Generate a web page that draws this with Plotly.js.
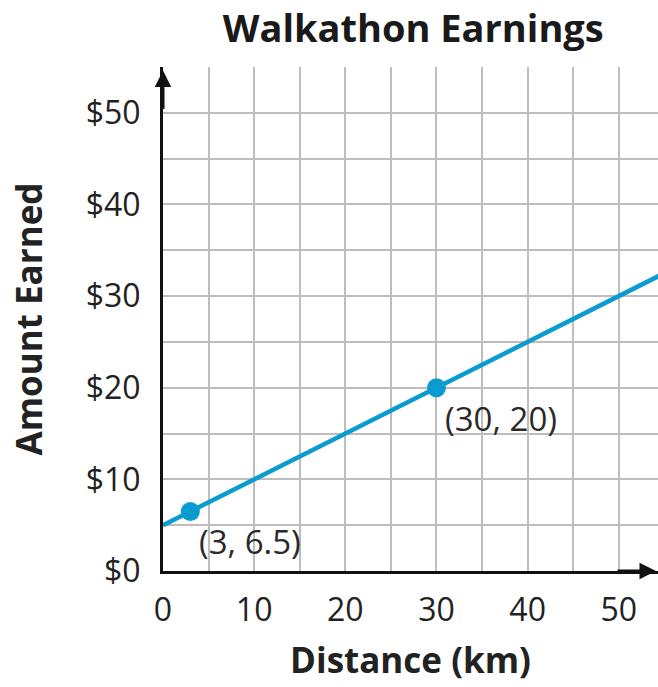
<!DOCTYPE html>
<html>
<head>
<meta charset="utf-8">
<script src="https://cdn.plot.ly/plotly-3.0.1.min.js"></script>
<style>html,body{margin:0;padding:0;background:#fff;}#chart{width:658px;height:687px;}</style>
</head>
<body>
<div id="chart"></div>
<script>
// Data
const distanceKm = [0, 3, 30, 55];
const amountEarned = [5, 6.5, 20, 32.5];
const pointX = [3, 30];
const pointY = [6.5, 20];
const pointLabels = ["(3, 6.5)", "(30, 20)"];
const xTickVals = [0, 5, 10, 15, 20, 25, 30, 35, 40, 45, 50];
const xTickText = ["0", "", "10", "", "20", "", "30", "", "40", "", "50"];
const yTickVals = [0, 5, 10, 15, 20, 25, 30, 35, 40, 45, 50, 55];
const yTickText = ["$0", "", "$10", "", "$20", "", "$30", "", "$40", "", "$50", ""];

const blue = "#0a9bd1";
const font = "Open Sans, Noto Sans, sans-serif";

const traces = [
  {x: distanceKm, y: amountEarned, mode: "lines", line: {color: blue, width: 4.5}, hoverinfo: "skip"},
  {x: pointX, y: pointY, mode: "markers", marker: {color: blue, size: 19}, hoverinfo: "skip", cliponaxis: false}
];

const annotations = pointLabels.map((t, i) => ({
  x: pointX[i], y: pointY[i], xref: "x", yref: "y", text: t, showarrow: false,
  xanchor: "left", yanchor: "top", xshift: 7, yshift: -6,
  font: {family: font, size: 33, color: "#2a2a2a"}
}));
// axis arrows
annotations.push({xref: "paper", yref: "y", x: 0.996, y: 0, ax: -40, ay: 0, showarrow: true,
  arrowhead: 2, arrowsize: 1.1, arrowwidth: 3, arrowcolor: "#111", text: ""});
annotations.push({xref: "x", yref: "paper", x: 0, y: 0.993, ax: 0, ay: 40, showarrow: true,
  arrowhead: 2, arrowsize: 1.1, arrowwidth: 3, arrowcolor: "#111", text: ""});

const layout = {
  width: 658, height: 687,
  margin: {l: 163, r: 0, t: 67, b: 116},
  paper_bgcolor: "#fff", plot_bgcolor: "#fff",
  showlegend: false,
  title: {text: "<b>Walkathon Earnings</b>", x: 0.628, xanchor: "center", y: 0.958, yanchor: "middle",
    font: {family: font, size: 38, color: "#1a1a1a"}},
  xaxis: {
    range: [0, 54.3], tickvals: xTickVals, ticktext: xTickText,
    showgrid: true, gridcolor: "#bdbdbd", gridwidth: 2,
    zeroline: false, showline: true, linecolor: "#111", linewidth: 3,
    ticks: "outside", ticklen: 9, tickcolor: "rgba(0,0,0,0)",
    tickfont: {family: font, size: 32, color: "#222"},
    title: {text: "<b>Distance (km)</b>", font: {family: font, size: 35, color: "#222"}, standoff: 20}
  },
  yaxis: {
    range: [0, 55], tickvals: yTickVals, ticktext: yTickText,
    showgrid: true, gridcolor: "#bdbdbd", gridwidth: 2,
    zeroline: false, showline: true, linecolor: "#111", linewidth: 3,
    ticks: "outside", ticklen: 13, tickcolor: "rgba(0,0,0,0)",
    tickfont: {family: font, size: 32, color: "#222"},
    title: {text: "<b>Amount Earned</b>", font: {family: font, size: 35, color: "#222"}, standoff: 33}
  },
  annotations: annotations
};

Plotly.newPlot("chart", traces, layout, {staticPlot: true, displayModeBar: false});
</script>
</body>
</html>
